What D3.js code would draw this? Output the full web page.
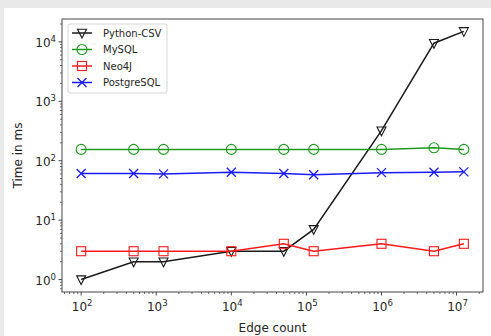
<!DOCTYPE html>
<html>
<head>
<meta charset="utf-8">
<script src="https://cdn.jsdelivr.net/npm/d3@7"></script>
<style>
  body { margin: 0; background: #e9e9e9; }
  svg { display: block; font-family: "DejaVu Sans", sans-serif; }
</style>
</head>
<body>
<script>
var width = 491, height = 336;

// donnees
var edgeCount = [100, 500, 1250, 10000, 50000, 125000, 1000000, 5000000, 12500000];
var pythonCsv = [1, 2, 2, 3, 3, 7, 320, 9500, 15000];
var mysql = [155, 155, 155, 155, 155, 155, 155, 165, 155];
var neo4j = [3, 3, 3, 3, 4, 3, 4, 3, 4];
var postgres = [61, 61, 60, 64, 61, 58, 63, 64, 65];
var seriesNames = ["Python-CSV", "MySQL", "Neo4J", "PostgreSQL"];
var seriesColors = ["#1a1a1a", "#1f9a1f", "#ff1a1a", "#1a1aff"];
var xTicks = [1e2, 1e3, 1e4, 1e5, 1e6, 1e7];
var yTicks = [1e0, 1e1, 1e2, 1e3, 1e4];

var margin = {left: 62, right: 8, top: 19, bottom: 44};

var svg = d3.select("body").append("svg")
    .attr("width", width)
    .attr("height", height);

// panneau blanc
svg.append("rect").attr("x", 4).attr("y", 8)
    .attr("width", width - 4).attr("height", height - 8)
    .attr("fill", "#fff");

var x = d3.scaleLog()
    .domain([Math.pow(10, 1.745), Math.pow(10, 7.352)])
    .range([margin.left, width - margin.right]);
var y = d3.scaleLog()
    .domain([Math.pow(10, -0.209), Math.pow(10, 4.385)])
    .range([height - margin.bottom, margin.top]);

var g = svg.append("g");

// ticks mineurs
var minorX = [], minorY = [];
for (var e = 1; e <= 7; e++) for (var k = 2; k <= 9; k++) {
    var v = k * Math.pow(10, e);
    if (v > x.domain()[0] && v < x.domain()[1]) minorX.push(v);
}
for (var e = -1; e <= 4; e++) for (var k = 2; k <= 9; k++) {
    var v = k * Math.pow(10, e);
    if (v > y.domain()[0] && v < y.domain()[1]) minorY.push(v);
}

var y0 = height - margin.bottom;
g.selectAll(".mx").data(minorX).enter().append("line")
    .attr("x1", d => x(d)).attr("x2", d => x(d))
    .attr("y1", y0).attr("y2", y0 + 2).attr("stroke", "#333").attr("stroke-width", 0.7);
g.selectAll(".my").data(minorY).enter().append("line")
    .attr("y1", d => y(d)).attr("y2", d => y(d))
    .attr("x1", margin.left).attr("x2", margin.left - 2).attr("stroke", "#333").attr("stroke-width", 0.7);

g.selectAll(".MX").data(xTicks).enter().append("line")
    .attr("x1", d => x(d)).attr("x2", d => x(d))
    .attr("y1", y0).attr("y2", y0 + 3.5).attr("stroke", "#333").attr("stroke-width", 0.9);
g.selectAll(".MY").data(yTicks).enter().append("line")
    .attr("y1", d => y(d)).attr("y2", d => y(d))
    .attr("x1", margin.left).attr("x2", margin.left - 3.5).attr("stroke", "#333").attr("stroke-width", 0.9);

function expo(d) { return Math.round(Math.log10(d)); }

var xl = g.selectAll(".xl").data(xTicks).enter().append("text")
    .attr("x", d => x(d) + 1).attr("y", y0 + 19)
    .attr("text-anchor", "middle").attr("font-size", 12).attr("fill", "#262626");
xl.append("tspan").text("10");
xl.append("tspan").attr("dy", -5).attr("font-size", 8.5).text(d => expo(d));

var yl = g.selectAll(".yl").data(yTicks).enter().append("text")
    .attr("x", margin.left - 6).attr("y", d => y(d) + 5)
    .attr("text-anchor", "end").attr("font-size", 12).attr("fill", "#262626");
yl.append("tspan").text("10");
yl.append("tspan").attr("dy", -5).attr("font-size", 8.5).text(d => expo(d));

svg.append("text").attr("x", (margin.left + width - margin.right) / 2).attr("y", 332)
    .attr("text-anchor", "middle").attr("font-size", 12).attr("fill", "#262626").text("Edge count");
svg.append("text").attr("transform", "translate(22," + ((margin.top + y0) / 2) + ") rotate(-90)")
    .attr("text-anchor", "middle").attr("font-size", 12).attr("fill", "#262626").text("Time in ms");

// marqueurs
function marker(sel, i, s) {
    var c = seriesColors[i];
    if (i == 0) {
        sel.append("path").attr("d", "M" + (-s * 0.9) + "," + (-s * 0.75) + "L" + (s * 0.9) + "," + (-s * 0.75) + "L0," + s + "Z")
            .attr("fill", "none").attr("stroke", c).attr("stroke-width", 1.1);
    } else if (i == 1) {
        sel.append("circle").attr("r", s).attr("fill", "none").attr("stroke", c).attr("stroke-width", 1.1);
    } else if (i == 2) {
        sel.append("rect").attr("x", -s * 0.9).attr("y", -s * 0.9).attr("width", s * 1.8).attr("height", s * 1.8)
            .attr("fill", "none").attr("stroke", c).attr("stroke-width", 1.1);
    } else {
        sel.append("path").attr("d", "M" + (-s * 0.9) + "," + (-s * 0.9) + "L" + (s * 0.9) + "," + (s * 0.9)
            + "M" + (-s * 0.9) + "," + (s * 0.9) + "L" + (s * 0.9) + "," + (-s * 0.9))
            .attr("stroke", c).attr("stroke-width", 1.3);
    }
}

var allSeries = [pythonCsv, mysql, neo4j, postgres];
var line = d3.line().x((d, i) => x(edgeCount[i])).y(d => y(d));

// ordre de dessin: python en premier comme matplotlib
allSeries.forEach(function (vals, i) {
    g.append("path").datum(vals).attr("d", line)
        .attr("fill", "none").attr("stroke", seriesColors[i]).attr("stroke-width", 1.5);
    vals.forEach(function (v, j) {
        var m = g.append("g").attr("transform", "translate(" + x(edgeCount[j]) + "," + y(v) + ")");
        marker(m, i, 5);
    });
});

// cadre
svg.append("rect").attr("x", margin.left).attr("y", margin.top)
    .attr("width", width - margin.right - margin.left).attr("height", y0 - margin.top)
    .attr("fill", "none").attr("stroke", "#333").attr("stroke-width", 0.9);

// legende
var leg = svg.append("g").attr("transform", "translate(68,24)");
leg.append("rect").attr("width", 99).attr("height", 69).attr("rx", 2)
    .attr("fill", "#fff").attr("fill-opacity", 0.8).attr("stroke", "#ccc").attr("stroke-width", 0.8);
seriesNames.forEach(function (n, i) {
    var row = leg.append("g").attr("transform", "translate(0," + (9 + i * 16.5) + ")");
    row.append("line").attr("x1", 4).attr("x2", 24).attr("stroke", seriesColors[i]).attr("stroke-width", 1.5);
    var m = row.append("g").attr("transform", "translate(14,0)");
    marker(m, i, 5);
    row.append("text").attr("x", 35).attr("y", 3.5).attr("font-size", 10).attr("fill", "#262626").text(n);
});
</script>
</body>
</html>
